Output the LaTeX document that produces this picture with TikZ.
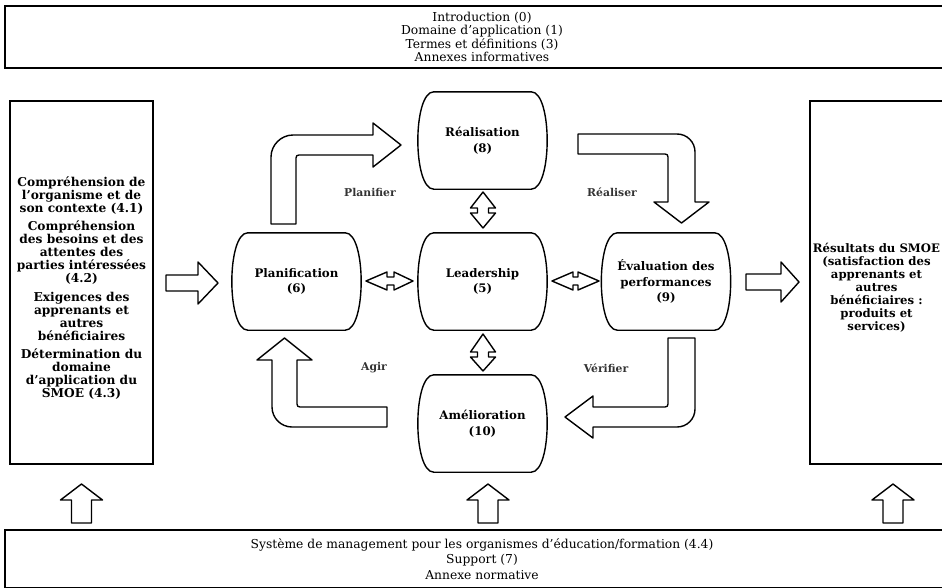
\documentclass[tikz,border=0pt]{standalone}
\usepackage{fontspec}
\setmainfont{DejaVu Serif}
\usetikzlibrary{calc}
\tikzset{
  blk/.style={draw=black, line width=1.4pt, fill=white, line join=round},
  outline/.style={draw=black, line width=1.4pt, line join=round},
  panel/.style={draw=black, line width=1.3pt, inner sep=0pt, align=center},
  stage/.style={minimum width=129pt, minimum height=97pt, inner sep=0pt, align=center,
    font=\bfseries\fontsize{11.8}{15.5}\selectfont},
  plain/.style={align=center, inner sep=0pt, font=\fontsize{12.3}{13.5}\selectfont},
  sidetext/.style={align=center, inner sep=0pt, font=\bfseries\fontsize{12.2}{13}\selectfont},
  phase/.style={inner sep=0pt, text=black!80, font=\bfseries\fontsize{10.8}{12}\selectfont}
}
\newcommand{\bulgeshape}[1]{%
  \draw[outline] ($(#1.north west)+(16,0)$) -- ($(#1.north east)+(-16,0)$)
    .. controls ($(#1.north east)+(5.3,0)$) and ($(#1.south east)+(5.3,0)$) .. ($(#1.south east)+(-16,0)$)
    -- ($(#1.south west)+(16,0)$)
    .. controls ($(#1.south west)+(-5.3,0)$) and ($(#1.north west)+(-5.3,0)$) .. cycle;}
\begin{document}
\begin{tikzpicture}[x=1pt,y=-1pt]
\useasboundingbox (0,0) rectangle (942,587);
\clip (0,0) rectangle (942,587);
\fill[white] (0,0) rectangle (942,587);

% top and bottom panels
\node[panel, minimum width=954pt, minimum height=62pt, plain] (top) at (482,37)
  {Introduction (0)\\Domaine d’application (1)\\Termes et définitions (3)\\Annexes informatives};
\node[panel, minimum width=954pt, minimum height=58pt, font=\fontsize{12.3}{15.5}\selectfont] (bottom) at (482,559)
  {Système de management pour les organismes d’éducation/formation (4.4)\\Support (7)\\Annexe normative};

% side panels
\node[panel, minimum width=143pt, minimum height=363pt] (ctx) at (81.5,282.5) {};
\node[sidetext] (ctxT) at (81.5,288) {Compréhension de\\l’organisme et de\\son contexte (4.1)\\[5.5pt]
  Compréhension\\des besoins et des\\attentes des\\parties intéressées\\(4.2)\\[5.5pt]
  Exigences des\\apprenants et\\autres\\bénéficiaires\\[5.5pt]
  Détermination du\\domaine\\d’application du\\SMOE (4.3)};
\node[panel, minimum width=160pt, minimum height=363pt] (res) at (890,282.5) {};
\node[sidetext, font=\bfseries\fontsize{11.7}{13}\selectfont] (resT) at (876.5,288)
  {Résultats du SMOE\\(satisfaction des\\apprenants et\\autres\\bénéficiaires :\\produits et\\services)};

% stages
\node[stage] (real) at (482.5,140.5) {Réalisation\\(8)};
\node[stage] (lead) at (482.5,281.5) {Leadership\\(5)};
\node[stage] (amel) at (482.5,423.5) {Amélioration\\(10)};
\node[stage] (plan) at (296.5,281.5) {Planification\\(6)};
\node[stage] (eval) at (666,281.5) {Évaluation des\\performances\\(9)};
\foreach \n in {real,lead,amel,plan,eval} {\bulgeshape{\n}}

% phase labels
\node[phase] (lplan) at (370,192) {Planifier};
\node[phase] (lreal) at (612,192) {Réaliser};
\node[phase] (lagir) at (374,368) {Agir};
\node[phase] (lveri) at (606,368) {Vérifier};

% straight arrows
\draw[blk] (166,275) -- (198,275) -- (198,262) -- (218,283) -- (198,304) -- (198,291) -- (166,291) -- cycle;
\draw[blk] (746,274) -- (781,274) -- (781,262) -- (799,282) -- (781,302) -- (781,290) -- (746,290) -- cycle;
\foreach \cx in {81.5,488,893} {
  \draw[blk] (\cx-10,523) -- (\cx-10,500) -- (\cx-21,500) -- (\cx,484) -- (\cx+21,500) -- (\cx+10,500) -- (\cx+10,523) -- cycle;
}

% bent arrows
\draw[blk] (271,224) -- (271,157) .. controls (271,145) and (281,135) .. (293,135) -- (373,135) -- (373,123)
  -- (401,145) -- (373,167) -- (373,155) -- (299,155) .. controls (297,155) and (296,156) .. (296,158) -- (296,224) -- cycle;
\draw[blk] (578,134) -- (677,134) .. controls (687,134) and (695,142) .. (695,152) -- (695,202) -- (709,202)
  -- (681.5,223) -- (654,202) -- (668,202) -- (668,157) .. controls (668,155) and (667,154) .. (665,154) -- (578,154) -- cycle;
\draw[blk] (668,338) -- (695,338) -- (695,409) .. controls (695,419) and (687,427) .. (677,427) -- (593,427) -- (593,438)
  -- (565,417) -- (593,396) -- (593,407) -- (665,407) .. controls (667,407) and (668,406) .. (668,404) -- cycle;
\draw[blk] (387,407) -- (387,427) -- (292,427) .. controls (281,427) and (272,418) .. (272,407) -- (272,360) -- (257,360)
  -- (284.5,338) -- (312,360) -- (297,360) -- (297,404) .. controls (297,406) and (298,407) .. (300,407) -- cycle;

% double arrows
\foreach \ya/\yb/\yc/\yd in {192/208/213/228, 334/352/357/371} {
  \draw[blk] (483,\ya) -- (495.5,\yb) -- (488.5,\yb) -- (488.5,\yc) -- (495.5,\yc) -- (483,\yd)
    -- (470.5,\yc) -- (477.5,\yc) -- (477.5,\yb) -- (470.5,\yb) -- cycle;
}
\foreach \xa/\xb/\xc/\xd in {366/387/394/413, 552/573/578/599} {
  \draw[blk] (\xa,281) -- (\xb,272) -- (\xb,277) -- (\xc,277) -- (\xc,272) -- (\xd,281)
    -- (\xc,290) -- (\xc,285) -- (\xb,285) -- (\xb,290) -- cycle;
}
\end{tikzpicture}
\end{document}
